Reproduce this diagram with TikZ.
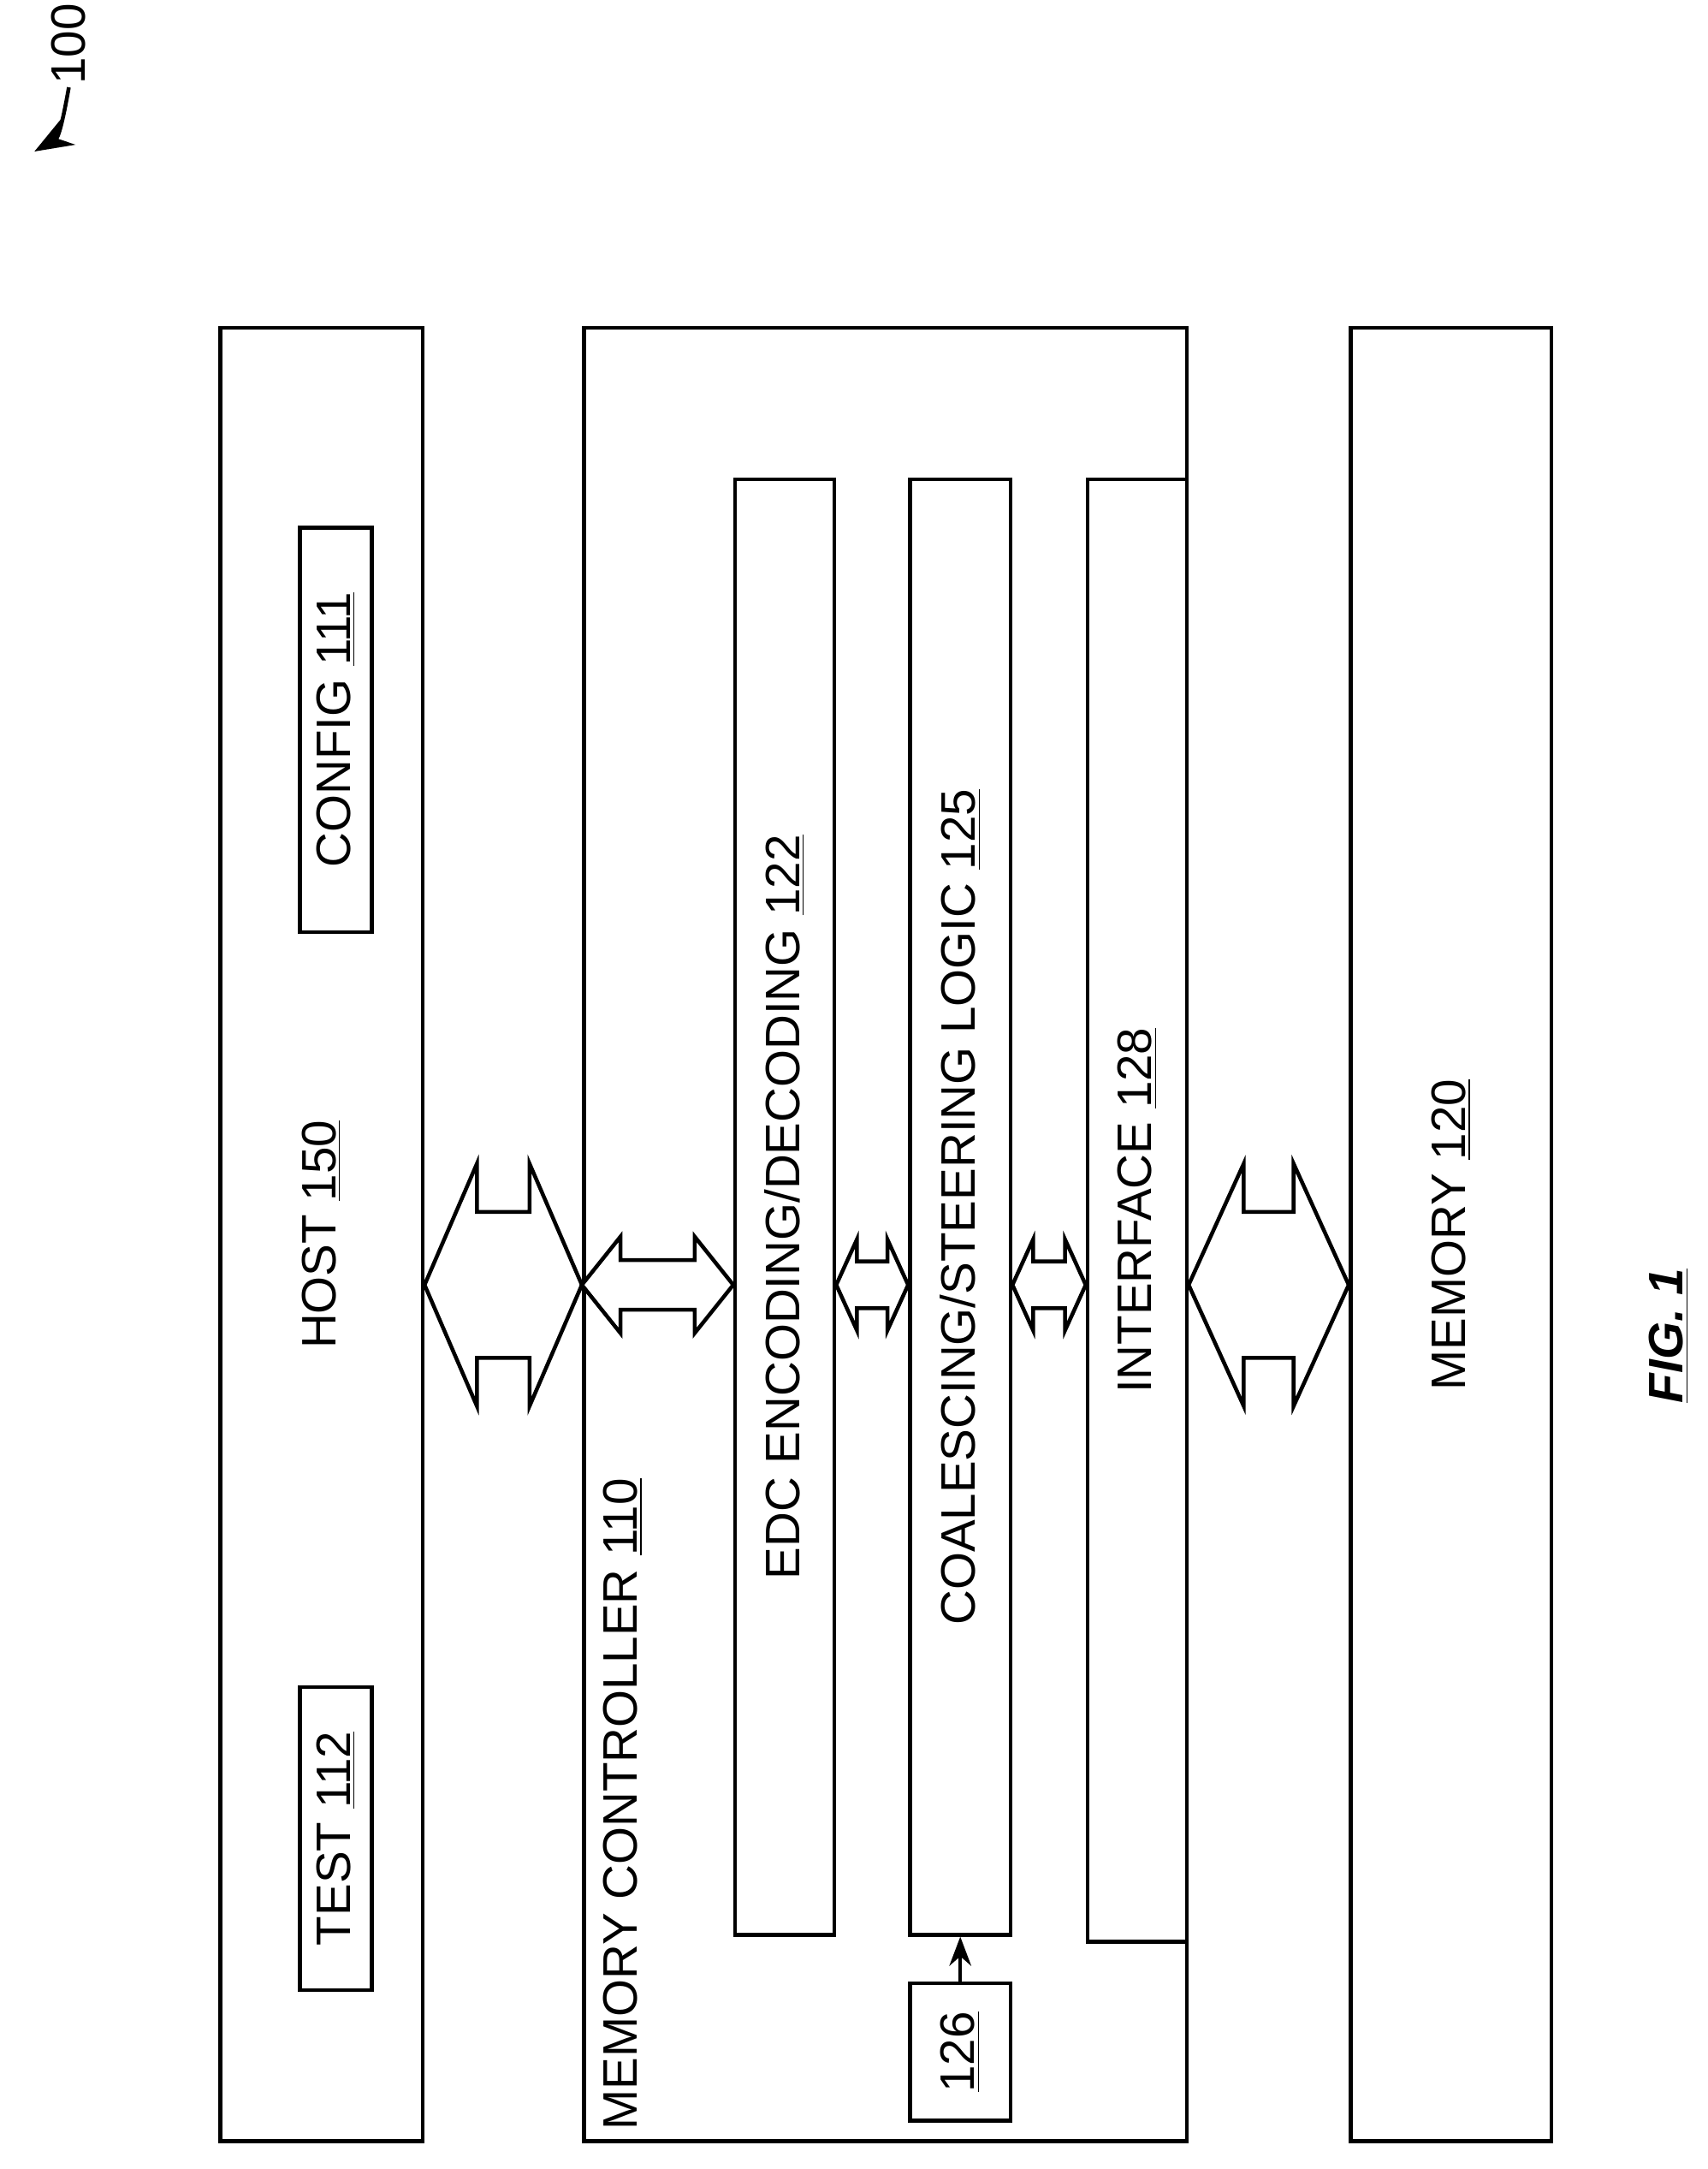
\documentclass[tikz,border=0pt]{standalone}
\usepackage{fontspec}
\setmainfont{Liberation Sans}
\usetikzlibrary{calc,arrows.meta}

\tikzset{
    box/.style={draw, line width=1.6pt, minimum width=#1, inner sep=0pt},
    lbl/.style={rotate=90, font=\fontsize{20}{24}\selectfont},
    arr/.style={draw, line width=1.6pt, fill=white},
}
% double block arrow: left tip, right tip, head half, shaft half, head length
\newcommand\blockarrow[5]{%
    \draw[arr] #1 -- ($#1+(#5,-#3)$) -- ($#1+(#5,-#4)$) -- ($#2+(-#5,-#4)$)
        -- ($#2+(-#5,-#3)$) -- #2 -- ($#2+(-#5,#3)$) -- ($#2+(-#5,#4)$)
        -- ($#1+(#5,#4)$) -- ($#1+(#5,#3)$) -- cycle;}

\begin{document}
\begin{tikzpicture}[x=0.02cm, y=-0.02cm]
    \useasboundingbox (0,0) rectangle (1240,1575);
    % outer blocks
    \node[box=2.94cm, minimum height=26.34cm] (host) at (233.5,896.5) {};
    \node[box=8.76cm, minimum height=26.34cm] (mc) at (643,896.5) {};
    \node[box=2.92cm, minimum height=26.34cm] (mem) at (1054,896.5) {};
    % inner blocks
    \node[box=1.04cm, minimum height=5.88cm] (config) at (244,530) {};
    \node[box=1.04cm, minimum height=4.4cm] (test) at (244,1335) {};
    \node[box=1.44cm, minimum height=21.14cm] (edc) at (570,876.5) {};
    \node[box=1.46cm, minimum height=21.14cm] (coal) at (697.5,876.5) {};
    \node[box=1.44cm, minimum height=21.24cm] (iface) at (826,879) {};
    \node[box=1.46cm, minimum height=2cm] (n126) at (697.5,1490) {};
    % labels
    \node[lbl] at (host) {HOST \underline{150}};
    \node[lbl] at (config) {CONFIG \underline{111}};
    \node[lbl] at (test) {TEST \underline{112}};
    \node[lbl, anchor=north west] at (432,1553) {MEMORY CONTROLLER \underline{110}};
    \node[lbl] at (edc) {EDC ENCODING/DECODING \underline{122}};
    \node[lbl] at (coal) {COALESCING/STEERING LOGIC \underline{125}};
    \node[lbl] at (iface) {INTERFACE \underline{128}};
    \node[lbl] at (mem) {MEMORY \underline{120}};
    \node[lbl] at (n126) {\underline{126}};
    \node[lbl, font=\fontsize{20}{24}\selectfont\bfseries\itshape] at (1212,970) {\underline{FIG. 1}};
    % connectors
    \coordinate (ay) at (0,933);
    \blockarrow{(host.east|-ay)}{(mc.west|-ay)}{88}{53}{38}
    \blockarrow{(mc.east|-ay)}{(mem.west|-ay)}{88}{53}{40}
    \blockarrow{(mc.west|-ay)}{(edc.west|-ay)}{35}{18}{28}
    \blockarrow{(edc.east|-ay)}{(coal.west|-ay)}{33}{17}{15}
    \blockarrow{(coal.east|-ay)}{(iface.west|-ay)}{33}{17}{15}
    \draw[line width=1.6pt, -{Stealth[length=12pt]}] (n126.north) -- (coal.south);
    % reference numeral
    \node[lbl, inner sep=1pt] (ref) at (50,32) {100};
    \coordinate (refend) at (25,110);
    \draw[line width=1.6pt, -{Stealth[length=16pt,width=12pt]}] (ref.west) to[out=-100, in=30] (refend);
\end{tikzpicture}
\end{document}
